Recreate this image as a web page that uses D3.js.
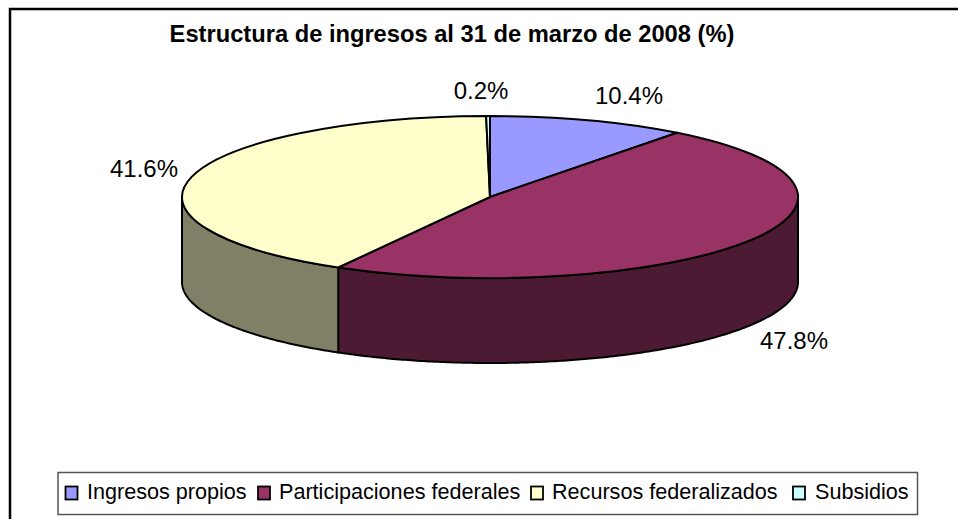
<!DOCTYPE html>
<html><head><meta charset="utf-8">
<script src="https://cdn.jsdelivr.net/npm/d3@7"></script>
<style>html,body{margin:0;padding:0;background:#fff;overflow:hidden}svg{display:block}text{font-family:"Liberation Sans",Arial,sans-serif;fill:#000}</style>
</head><body>
<svg id="c" width="958" height="519"></svg>
<script>
const categories = ["Ingresos propios","Participaciones federales","Recursos federalizados","Subsidios"];
const values = [10.4,47.8,41.6,0.2];
const valueLabels = ["10.4%","47.8%","41.6%","0.2%"];
const topColors = ["#9999ff","#993366","#ffffcc","#ccffff"];
const sideColors = ["#4d4d80","#4d1a33","#808066","#668080"];
const titleText = "Estructura de ingresos al 31 de marzo de 2008 (%)";

const svg = d3.select("#c");
const cx=490, cy=197, rx=308, ry=81, depth=85;
svg.append("rect").attr("x",10).attr("y",9).attr("width",970).attr("height",530)
  .attr("fill","#fff").attr("stroke","#000").attr("stroke-width",2.5);

const arcs = d3.pie().sort(null).value(d=>d)(values);
const px = a=>cx+rx*Math.sin(a), py=a=>cy-ry*Math.cos(a);

function wall(a0,a1){
  const s=Math.max(a0,Math.PI/2), e=Math.min(a1,3*Math.PI/2);
  if(e<=s) return null;
  const as=d3.range(s,e,0.01).concat([e]);
  const pts=as.map(a=>[px(a),py(a)]).concat(as.slice().reverse().map(a=>[px(a),py(a)+depth]));
  return d3.line()(pts)+"Z";
}
const walls=svg.append("g");
arcs.forEach((d,i)=>{
  const p=wall(d.startAngle,d.endAngle);
  if(p) walls.append("path").attr("d",p).attr("fill",sideColors[i]).attr("stroke","#000").attr("stroke-width",2).attr("stroke-linejoin","round");
});

const arc=d3.arc().innerRadius(0).outerRadius(rx);
const topFace=svg.append("g").attr("transform",`translate(${cx},${cy}) scale(1,${ry/rx})`);
topFace.selectAll("path").data(arcs).join("path").attr("d",arc)
  .attr("fill",(d,i)=>topColors[i]).attr("stroke","#000").attr("stroke-width",2)
  .attr("vector-effect","non-scaling-stroke").attr("stroke-linejoin","round");

svg.append("text").attr("x",452).attr("y",42).attr("text-anchor","middle")
  .attr("font-size",23.7).attr("font-weight","bold").text(titleText);

const labelPos=[[629,104],[794,349],[144,177],[481,99]];
valueLabels.forEach((t,i)=>svg.append("text").attr("x",labelPos[i][0]).attr("y",labelPos[i][1])
  .attr("text-anchor","middle").attr("font-size",24).attr("fill","#111").text(t));

const lg=svg.append("g");
lg.append("rect").attr("x",58).attr("y",472.5).attr("width",859.5).attr("height",42)
  .attr("fill","#fff").attr("stroke","#555").attr("stroke-width",1.5);
const swatchX=[65.5,258,531,793], textX=[87,279,552,815];
categories.forEach((c,i)=>{
  lg.append("rect").attr("x",swatchX[i]).attr("y",486.5).attr("width",12).attr("height",13)
    .attr("fill",topColors[i]).attr("stroke","#000").attr("stroke-width",1.8);
  lg.append("text").attr("x",textX[i]).attr("y",499).attr("font-size",21.6).text(c);
});
</script>
</body></html>
